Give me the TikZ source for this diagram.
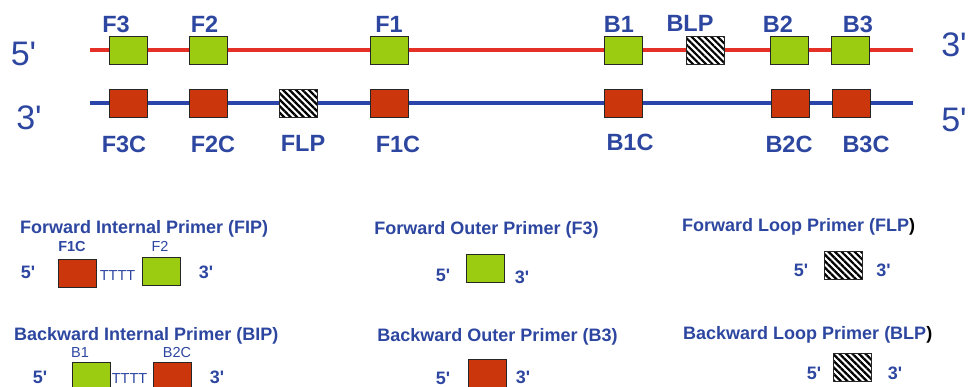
\documentclass[tikz,border=0pt]{standalone}
\usepackage{fontspec}
\setmainfont{Liberation Sans}[Ligatures=TeXOff]
\usepackage{xcolor}
\usetikzlibrary{positioning, patterns.meta}
\definecolor{txtblue}{RGB}{45,70,160}
\definecolor{segred}{RGB}{204,54,12}
\definecolor{seggreen}{RGB}{155,204,18}
\definecolor{strandred}{RGB}{228,48,38}
\definecolor{strandblue}{RGB}{42,68,170}
\tikzset{
  seg/.style={draw=black!85, line width=0.8pt, minimum width=38pt,
              minimum height=28pt, inner sep=0pt},
  fwdseg/.style={seg, fill=seggreen},
  revseg/.style={seg, fill=segred},
  loopseg/.style={seg, preaction={fill=white},
                  pattern={Lines[angle=-45, distance=4.6pt, line width=2.2pt]}},
  strand/.style={line width=4pt},
  seglbl/.style={font=\fontsize{23.5}{24}\selectfont\bfseries, text=txtblue,
                 inner sep=0pt},
  endlbl/.style={font=\fontsize{34}{34}\selectfont, text=txtblue, inner sep=0pt},
  hdr/.style={font=\fontsize{18}{18}\selectfont\bfseries, text=txtblue,
              inner sep=0pt, anchor=base west},
  primlbl/.style={font=\fontsize{14.5}{15}\selectfont, text=txtblue, inner sep=0pt},
  primend/.style={font=\fontsize{18}{18}\selectfont\bfseries, text=txtblue,
                  inner sep=0pt, anchor=base}
}
\begin{document}
\begin{tikzpicture}[x=1pt, y=-1pt]
  \useasboundingbox (0,0) rectangle (974,386);

  % strands
  \coordinate (tl) at (90,50);  \coordinate (tr) at (913,50);
  \coordinate (bl) at (90,103); \coordinate (br) at (913,103);
  \draw[strand, strandred] (tl) -- (tr);
  \draw[strand, strandblue] (bl) -- (br);
  \node[endlbl] (t5) at (23.5,54) {5'};
  \node[endlbl] (b3) at (29,118) {3'};
  \node[endlbl] (t3) at (954,45) {3'};
  \node[endlbl] (b5) at (954,119.5) {5'};

  % top strand regions
  \node[fwdseg] (f3) at (128,50) {};
  \node[fwdseg] (f2) at (208,50) {};
  \node[fwdseg] (f1) at (389,50) {};
  \node[fwdseg] (b1) at (623.5,50) {};
  \node[loopseg] (blp) at (705,50) {};
  \node[fwdseg] (b2) at (789.5,50) {};
  \node[fwdseg] (b3) at (850.5,50) {};
  \node[seglbl, above=3pt of f3, xshift=-12pt] (lf3) {F3};
  \node[seglbl, above=3pt of f2, xshift=-3.5pt] (lf2) {F2};
  \node[seglbl, above=3pt of f1] (lf1) {F1};
  \node[seglbl, above=3pt of b1, xshift=-4.5pt] (lb1) {B1};
  \node[seglbl, above=3pt of blp, xshift=-15pt] (lblp) {BLP};
  \node[seglbl, above=3pt of b2, xshift=-11.5pt] (lb2) {B2};
  \node[seglbl, above=3pt of b3, xshift=7.5pt] (lb3) {B3};

  % bottom strand regions
  \node[revseg] (f3c) at (128,103) {};
  \node[revseg] (f2c) at (208,103) {};
  \node[loopseg] (flp) at (298,103) {};
  \node[revseg] (f1c) at (389,103) {};
  \node[revseg] (b1c) at (623.5,103) {};
  \node[revseg] (b2c) at (790,103) {};
  \node[revseg] (b3c) at (851,103) {};
  \node[seglbl, below=18pt of f3c, xshift=-4pt] (lf3c) {F3C};
  \node[seglbl, below=18pt of f2c, xshift=5pt] (lf2c) {F2C};
  \node[seglbl, below=18pt of flp, xshift=5pt] (lflp) {FLP};
  \node[seglbl, below=18pt of f1c, xshift=9pt] (lf1c) {F1C};
  \node[seglbl, below=16pt of b1c, xshift=6.5pt] (lb1c) {B1C};
  \node[seglbl, below=18pt of b2c, xshift=-1pt] (lb2c) {B2C};
  \node[seglbl, below=18pt of b3c, xshift=15pt] (lb3c) {B3C};

  % FIP
  \node[hdr] (fiphdr) at (20,233.5) {Forward Internal Primer (FIP)};
  \node[revseg] (fipa) at (77.5,273) {};
  \node[fwdseg] (fipb) at (161,271.5) {};
  \node[primlbl, font=\fontsize{14.5}{15}\selectfont\bfseries,
        above=7pt of fipa, xshift=-5.5pt] (fipal) {F1C};
  \node[primlbl, above=5pt of fipb, xshift=-1pt] (fipbl) {F2};
  \node[primlbl, anchor=base] (fipt) at (117.5,280) {TTTT};
  \node[primend] (fip5) at (28,278.5) {5'};
  \node[primend] (fip3) at (206,278.5) {3'};

  % BIP
  \node[hdr] (biphdr) at (14,340.5) {Backward Internal Primer (BIP)};
  \node[fwdseg] (bipa) at (91,376) {};
  \node[revseg] (bipb) at (172.5,376) {};
  \node[primlbl, above=4pt of bipa, xshift=-11pt] (bipal) {B1};
  \node[primlbl, above=4pt of bipb, xshift=4.5pt] (bipbl) {B2C};
  \node[primlbl, anchor=base] (bipt) at (129.5,383) {TTTT};
  \node[primend] (bip5) at (40,383.5) {5'};
  \node[primend] (bip3) at (217,383.5) {3'};

  % outer primers
  \node[hdr, anchor=base] (f3hdr) at (486.5,234.5) {Forward Outer Primer (F3)};
  \node[fwdseg] (f3p) at (485,268) {};
  \node[primend] (f3p5) at (443,281.5) {5'};
  \node[primend] (f3p3) at (522,283) {3'};
  \node[hdr, anchor=base] (b3hdr) at (497.5,341.5) {Backward Outer Primer (B3)};
  \node[revseg] (b3p) at (487.5,373) {};
  \node[primend] (b3p5) at (443,384) {5'};
  \node[primend] (b3p3) at (523,383.5) {3'};

  % loop primers
  \node[hdr] (flphdr) at (682,231.5) {Forward Loop Primer (FLP\textcolor{black}{)}};
  \node[loopseg] (flpp) at (843.5,265) {};
  \node[primend] (flp5) at (801,276.5) {5'};
  \node[primend] (flp3) at (883.5,276.5) {3'};
  \node[hdr] (blphdr) at (683,339.5) {Backward Loop Primer (BLP\textcolor{black}{)}};
  \node[loopseg] (blpp) at (852.5,367.5) {};
  \node[primend] (blp5) at (814,379.5) {5'};
  \node[primend] (blp3) at (895,379.5) {3'};
\end{tikzpicture}
\end{document}
